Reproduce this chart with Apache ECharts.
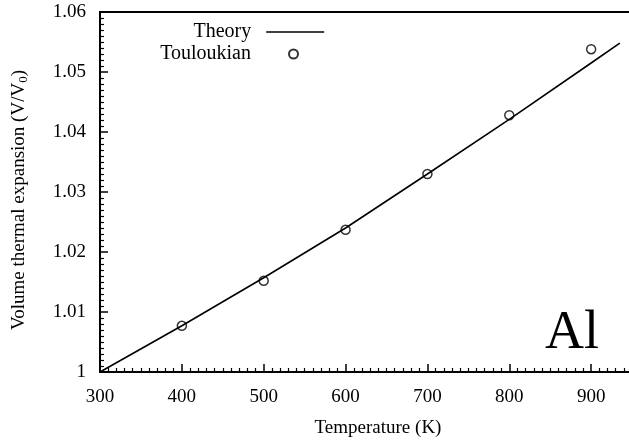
<!DOCTYPE html>
<html>
<head>
<meta charset="utf-8">
<title>Al volume thermal expansion</title>
<script src="https://cdn.jsdelivr.net/npm/echarts@6/dist/echarts.min.js"></script>
<style>
  html, body { margin: 0; padding: 0; background: #fff; }
  #chart { width: 629px; height: 445px; }
</style>
</head>
<body>
<div id="chart"></div>
<script>
// Theory curve: temperature (K) and V/V0
const theoryT = [300, 400, 500, 600, 700, 800, 900, 935];
const theoryV = [1.0, 1.0077, 1.0157, 1.0240, 1.0330, 1.0421, 1.0515, 1.0548];

// Touloukian reference data
const expT = [400, 500, 600, 700, 800, 900];
const expV = [1.0077, 1.0152, 1.0237, 1.0330, 1.0428, 1.0538];

// Axis ranges and ticks
const xTicks = { min: 300, max: 1000, step: 100 };
const yTicks = { min: 1.0, max: 1.06, step: 0.01 };

const FONT = '"Liberation Serif", "DejaVu Serif", serif';

const chart = echarts.init(document.getElementById('chart'), null, { renderer: 'canvas' });

const axisCommon = {
  axisLine: { show: true, onZero: false, lineStyle: { color: '#000', width: 2 } },
  axisTick: { show: true, inside: true, length: 8, lineStyle: { color: '#000', width: 1.5 } },
  minorTick: { show: true, splitNumber: 10, length: 4, lineStyle: { color: '#000', width: 1.2 } },
  splitLine: { show: false },
  axisLabel: { color: '#000', fontFamily: FONT, fontSize: 19, margin: 14 }
};

chart.setOption({
  animation: false,
  backgroundColor: '#fff',
  grid: {
    left: 100, top: 12, width: 573, height: 360,
    outerBoundsMode: 'none', containLabel: false,
    show: true, borderColor: '#000', borderWidth: 2, backgroundColor: 'transparent'
  },
  xAxis: Object.assign({}, axisCommon, {
    type: 'value',
    min: xTicks.min, max: xTicks.max, interval: xTicks.step,
    axisLabel: Object.assign({}, axisCommon.axisLabel, {
      margin: 16,
      formatter: v => (v > 900 ? '' : String(v))
    })
  }),
  yAxis: Object.assign({}, axisCommon, {
    type: 'value',
    min: yTicks.min, max: yTicks.max, interval: yTicks.step,
    axisLabel: Object.assign({}, axisCommon.axisLabel, {
      formatter: v => String(Math.round(v * 100) / 100)
    })
  }),
  legend: [
    {
      data: ['Theory'], orient: 'vertical', align: 'right',
      right: 629 - 325, top: 22,
      itemWidth: 58, itemHeight: 9, padding: 0,
      itemStyle: { color: 'rgba(0,0,0,0)', borderColor: 'rgba(0,0,0,0)', borderWidth: 0 },
      lineStyle: { color: '#000', width: 1.6 },
      textStyle: { color: '#000', fontFamily: FONT, fontSize: 20, padding: [0, 10, 0, 0] }
    },
    {
      data: ['Touloukian'], orient: 'vertical', align: 'right',
      right: 629 - 299, top: 44,
      itemWidth: 9, itemHeight: 9, padding: 0,
      textStyle: { color: '#000', fontFamily: FONT, fontSize: 20, padding: [0, 33, 0, 0] }
    }
  ],
  graphic: [
    {
      type: 'text', x: 378, y: 428,
      style: {
        text: 'Temperature (K)', fill: '#000',
        font: '19px ' + FONT, align: 'center', verticalAlign: 'middle'
      }
    },
    {
      type: 'text', x: 19, y: 200, rotation: Math.PI / 2,
      style: {
        text: 'Volume thermal expansion (V/V{sub|0})', fill: '#000',
        font: '19px ' + FONT, align: 'center', verticalAlign: 'middle',
        rich: { sub: { fontSize: 13, fontFamily: FONT, padding: [9, 0, 0, 0] } }
      }
    },
    {
      type: 'text', x: 545, y: 334,
      style: {
        text: 'Al', fill: '#000',
        font: '54px ' + FONT, align: 'left', verticalAlign: 'middle'
      }
    }
  ],
  series: [
    {
      name: 'Theory', type: 'line',
      data: theoryT.map((t, i) => [t, theoryV[i]]),
      symbol: 'none', smooth: false,
      lineStyle: { color: '#000', width: 1.6 },
      itemStyle: { color: '#000' }
    },
    {
      name: 'Touloukian', type: 'scatter',
      data: expT.map((t, i) => [t, expV[i]]),
      symbol: 'circle', symbolSize: 9,
      itemStyle: { color: '#fff', borderColor: '#000', borderWidth: 1.5 }
    }
  ]
});
</script>
</body>
</html>
